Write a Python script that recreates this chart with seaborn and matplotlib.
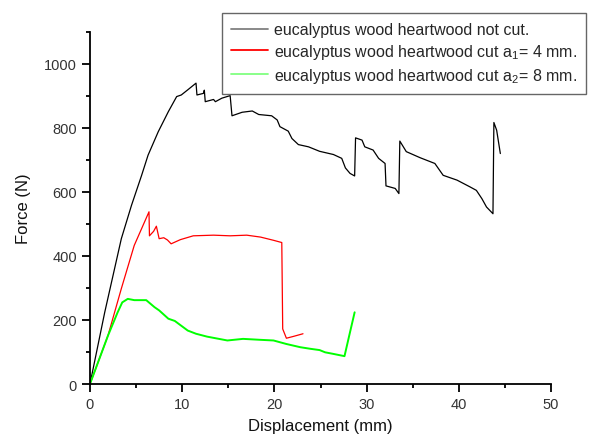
import numpy as np
import pandas as pd
import matplotlib
matplotlib.use('Agg')
import matplotlib.pyplot as plt
from matplotlib.ticker import MultipleLocator
import seaborn as sns

not_cut_x = [0, 1.6, 3.4, 4.5, 5.6, 6.3, 7.4, 8.5, 9.4, 9.9, 10.6, 11.5, 11.6, 12.3, 12.4,
             12.5, 13.4, 13.6, 14.3, 15.2, 15.4, 16.5, 17.6, 18.3, 19.7, 20.3, 20.6, 21.5,
             21.9, 22.6, 23.7, 24.9, 26.4, 27.3, 27.7, 28.2, 28.7, 28.8, 29.5, 29.8, 30.7,
             31.3, 32.0, 32.1, 33.1, 33.5, 33.6, 34.3, 35.8, 37.4, 38.3, 39.8, 41.2, 41.9,
             42.5, 43.0, 43.7, 43.8, 44.1, 44.5]
not_cut_f = [0, 224, 454, 558, 652, 715, 788, 851, 898, 903, 919, 940, 903, 908, 918,
             882, 889, 882, 893, 901, 838, 849, 853, 842, 838, 825, 804, 790,
             767, 748, 741, 727, 717, 705, 675, 658, 650, 769, 762, 741, 731,
             705, 689, 619, 611, 595, 759, 726, 707, 689, 652, 637, 616, 605,
             579, 553, 532, 817, 793, 720]

cut4_x = [0, 1.95, 3.4, 4.8, 6.4, 6.45, 6.9, 7.2, 7.5, 8.0, 8.4, 8.8, 9.8, 11.2,
          13.4, 15.2, 17.0, 18.5, 19.9, 20.8, 20.9, 21.3, 22.1, 23.1]
cut4_f = [0, 151, 298, 433, 538, 463, 477, 493, 454, 457, 450, 438, 451, 463,
          465, 463, 465, 459, 449, 442, 172, 143, 149, 157]

cut8_x = [0, 1.95, 3.0, 3.5, 4.1, 4.8, 6.1, 7.0, 7.5, 8.5, 9.2, 10.6,
          11.5, 12.7, 14.9, 16.6, 18.5, 19.9, 21.3, 22.8, 23.9, 24.9, 25.5, 26.4,
          27.6, 28.2, 28.7]
cut8_f = [0, 151, 224, 255, 266, 262, 262, 240, 230, 204, 197, 167,
          157, 148, 136, 141, 138, 136, 125, 115, 110, 106, 99, 94,
          87, 162, 224]

labels = ['eucalyptus wood heartwood not cut.',
          'eucalyptus wood heartwood cut a$_1$= 4 mm.',
          'eucalyptus wood heartwood cut a$_2$= 8 mm.']

sns.set_style('ticks')
plt.rcParams['font.family'] = ['Liberation Sans', 'DejaVu Sans']
plt.rcParams['mathtext.fontset'] = 'custom'
plt.rcParams['mathtext.rm'] = 'Liberation Sans'
plt.rcParams['mathtext.it'] = 'Liberation Sans'

fig = plt.figure(figsize=(5.9, 4.39), dpi=100)
ax = fig.add_axes([0.1525, 0.123, 0.7815, 0.802])

sns.lineplot(x=not_cut_x, y=not_cut_f, sort=False, estimator=None, color='black',
             linewidth=0.9, label=labels[0], ax=ax)
sns.lineplot(x=cut4_x, y=cut4_f, sort=False, estimator=None, color='#ff0000',
             linewidth=0.9, label=labels[1], ax=ax)
sns.lineplot(x=cut8_x, y=cut8_f, sort=False, estimator=None, color='#00ff00',
             linewidth=1.4, label=labels[2], ax=ax)

ax.set_xlim(0, 50)
ax.set_ylim(0, 1100)
ax.xaxis.set_major_locator(MultipleLocator(10))
ax.xaxis.set_minor_locator(MultipleLocator(5))
ax.yaxis.set_major_locator(MultipleLocator(200))
ax.yaxis.set_minor_locator(MultipleLocator(100))
ax.set_yticks([0, 200, 400, 600, 800, 1000])
ax.tick_params(which='major', direction='out', length=6, width=1.3, labelsize=10.5,
               labelcolor='#333333', color='black')
ax.tick_params(which='minor', direction='out', length=3, width=1.3, color='black')
sns.despine(ax=ax)
for s in ['left', 'bottom']:
    ax.spines[s].set_linewidth(1.3)
    ax.spines[s].set_color('black')

ax.set_xlabel('Displacement (mm)', fontsize=12, color='#111111', labelpad=5)
ax.set_ylabel('Force (N)', fontsize=12, color='#111111', labelpad=9)

leg = ax.legend(loc='upper left', bbox_to_anchor=(0.286, 1.055), fontsize=11.5,
                frameon=True, fancybox=False, framealpha=1, edgecolor='#666666',
                handlelength=2.3, handletextpad=0.35, borderpad=0.6, labelspacing=0.3,
                borderaxespad=0)
leg.get_frame().set_linewidth(1.0)
for h, c in zip(leg.get_lines(), ['#808080', '#ff0000', '#80ff80']):
    h.set_color(c)
    h.set_linewidth(1.3)

fig.savefig('out.png', dpi=100)
